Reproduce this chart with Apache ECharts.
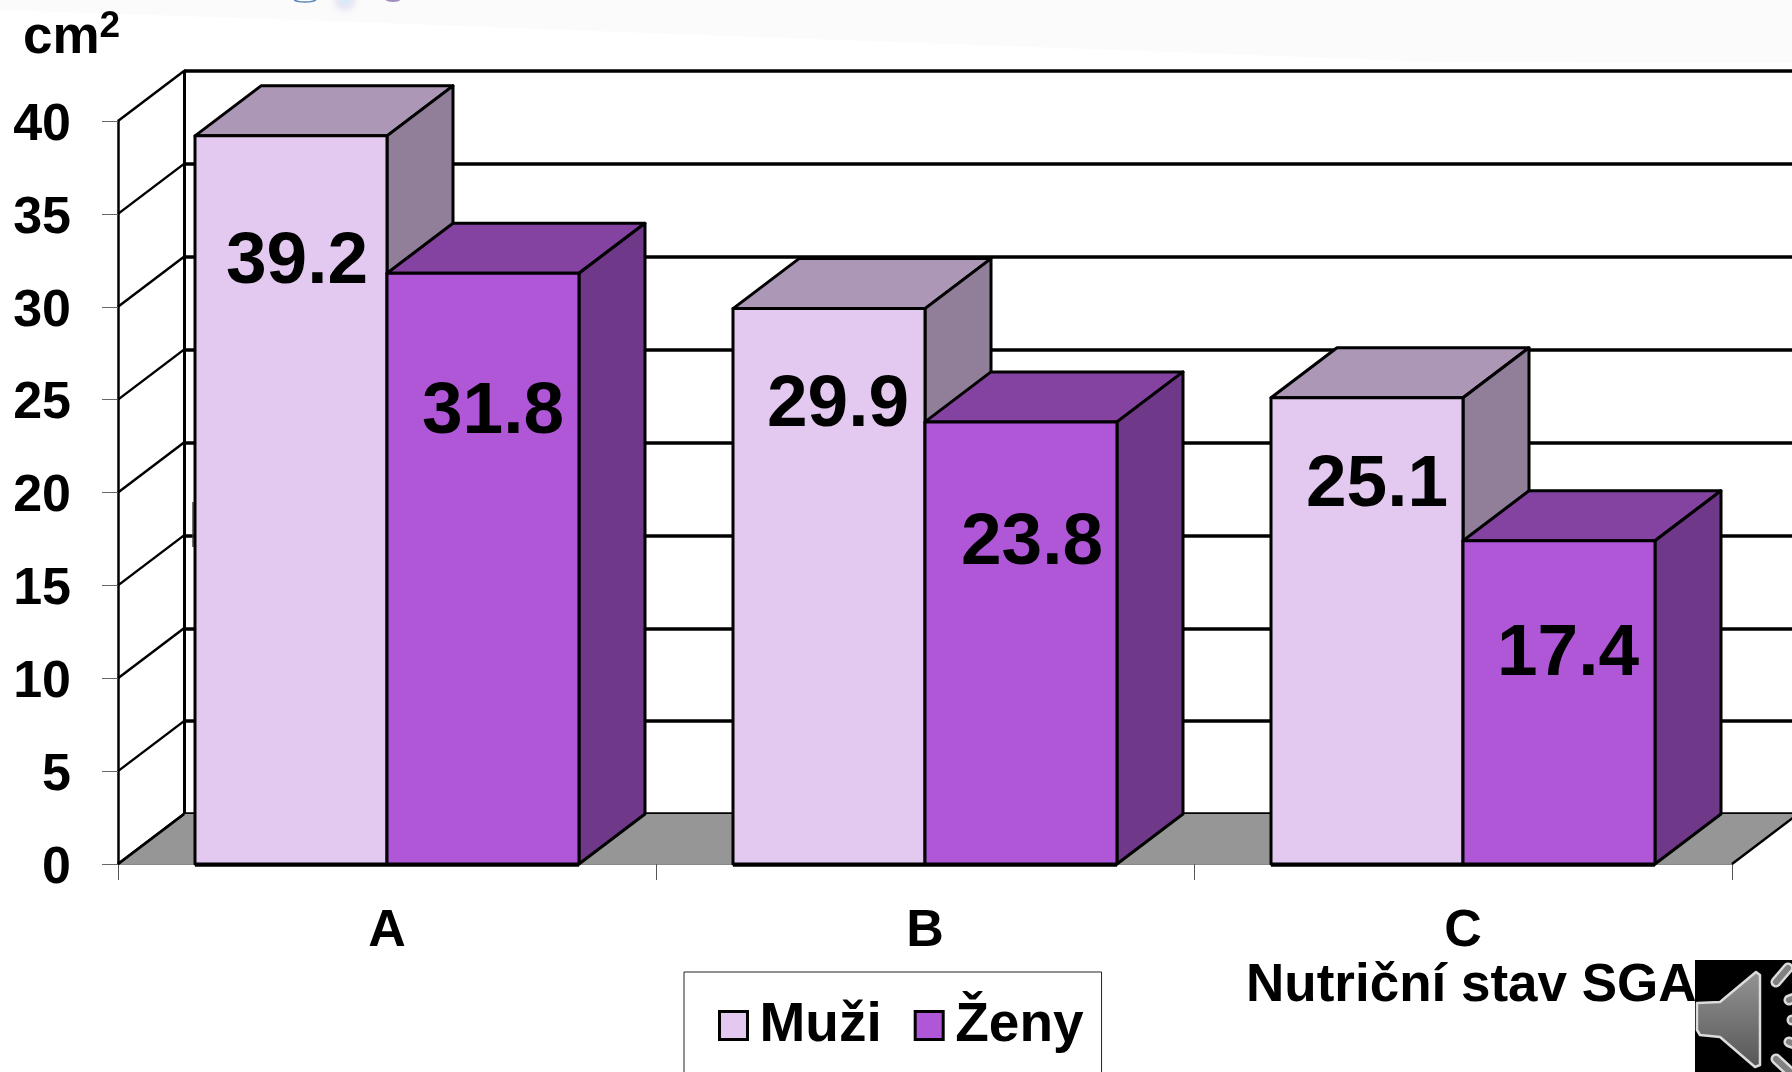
<!DOCTYPE html>
<html>
<head>
<meta charset="utf-8">
<title>Nutriční stav SGA</title>
<style>
  html, body { margin: 0; padding: 0; background: #fff; overflow: hidden; }
  #chart { width: 1792px; height: 1072px; }
</style>
<script src="https://cdn.jsdelivr.net/npm/echarts@6/dist/echarts.min.js"></script>
</head>
<body>
<div id="chart"></div>
<script>
// data
const categories = ['A', 'B', 'C'];
const muzi = [39.2, 29.9, 25.1];
const zeny = [31.8, 23.8, 17.4];
const wallTicks = [0, 5, 10, 15, 20, 25, 30, 35, 40];

// look of the 3D boxes
const DEPTH_X = 66;
const DEPTH_Y = -50;
const BAR_SHARE = 192 / 538;
const FONT = '"Liberation Sans", Arial, sans-serif';
const LINE = '#000';

const muziColors = { front: '#e3c8f0', top: '#ac98b6', side: '#917e99' };
const zenyColors = { front: '#af57d6', top: '#8543a1', side: '#6f3889' };

// labels are not centred in the bars in the original, pixel nudge from the bar centre / top
const muziNudge = [[6, 127], [9, 97], [10, 88]];
const zenyNudge = [[10, 140], [11, 122], [9, 114]];

function poly(points, fill, lineWidth) {
    return {
        type: 'polygon',
        shape: { points: points },
        style: { fill: fill, stroke: LINE, lineWidth: lineWidth || 3, lineJoin: 'round' }
    };
}

// one box per datum, side = -1 left of the category centre, side = 0 right of it
function boxRenderer(side, colors, nudge) {
    return function (params, api) {
        const idx = api.value(0);
        const val = api.value(1);
        const top = api.coord([idx, val]);
        const base = api.coord([idx, 0]);
        const w = api.size([1, 0])[0] * BAR_SHARE;
        const x0 = top[0] + side * w;
        const x1 = x0 + w;
        return {
            type: 'group',
            children: [
                poly([[x0, top[1]], [x0 + DEPTH_X, top[1] + DEPTH_Y], [x1 + DEPTH_X, top[1] + DEPTH_Y], [x1, top[1]]], colors.top),
                poly([[x1, top[1]], [x1 + DEPTH_X, top[1] + DEPTH_Y], [x1 + DEPTH_X, base[1] + DEPTH_Y], [x1, base[1]]], colors.side),
                poly([[x0, top[1]], [x1, top[1]], [x1, base[1]], [x0, base[1]]], colors.front),
                {
                    type: 'line',
                    shape: { x1: x0, y1: base[1] + 1, x2: x1, y2: base[1] + 1 },
                    style: { stroke: LINE, lineWidth: 3.5 }
                },
                {
                    type: 'text',
                    style: {
                        x: x0 + w / 2 + nudge[params.dataIndex][0],
                        y: top[1] + nudge[params.dataIndex][1],
                        text: val.toFixed(1),
                        fill: '#000',
                        font: 'bold 73px ' + FONT,
                        align: 'center',
                        verticalAlign: 'middle'
                    }
                }
            ]
        };
    };
}

function renderWall(params, api) {
    const p = api.coord([0, api.value(0)]);
    const x = params.coordSys.x;
    return {
        type: 'line',
        shape: { x1: x, y1: p[1], x2: x + DEPTH_X, y2: p[1] + DEPTH_Y },
        style: { stroke: LINE, lineWidth: 2.5 }
    };
}

function renderFloor(params, api) {
    const y = api.coord([0, 0])[1];
    const x0 = params.coordSys.x;
    const x1 = x0 + params.coordSys.width;
    return {
        type: 'group',
        children: [
            {
                type: 'polygon',
                shape: { points: [[x0, y], [x0 + DEPTH_X, y + DEPTH_Y], [x1 + DEPTH_X, y + DEPTH_Y], [x1, y]] },
                style: { fill: '#969696' }
            },
            { type: 'line', shape: { x1: x0, y1: y, x2: x0 + DEPTH_X, y2: y + DEPTH_Y }, style: { stroke: LINE, lineWidth: 2.5 } },
            { type: 'line', shape: { x1: x1, y1: y, x2: x1 + DEPTH_X, y2: y + DEPTH_Y }, style: { stroke: LINE, lineWidth: 2.5 } }
        ]
    };
}

// the slide behind the chart: pale band at the top, glow of the cut off logo, sound icon
function slideGraphics() {
    const speaker = [[1697, 1003], [1720, 1002], [1756, 972], [1760, 975], [1760, 1065], [1755, 1067], [1720, 1037], [1700, 1035], [1697, 1030]];
    const waves = [
        [[1776, 982], [1788, 968]],
        [[1789, 1000], [1800, 996]],
        [[1792, 1020], [1800, 1020]],
        [[1789, 1042], [1800, 1046]],
        [[1776, 1059], [1790, 1072]]
    ];
    const els = [
        {
            type: 'polygon', silent: true, z: -10,
            shape: { points: [[0, 0], [1792, 0], [1792, 63], [1434, 62], [1200, 53], [700, 35], [300, 20], [0, 10]] },
            style: { fill: '#fbfbfb' }
        },
        {
            type: 'ellipse', silent: true, z: -9,
            shape: { cx: 345, cy: 0, rx: 170, ry: 18 },
            style: {
                fill: {
                    type: 'radial', x: 0.5, y: 0.5, r: 0.5,
                    colorStops: [
                        { offset: 0, color: '#d4eaf8' },
                        { offset: 0.45, color: '#ebe8f5' },
                        { offset: 1, color: 'rgba(251,251,251,0)' }
                    ]
                }
            }
        },
        { type: 'ellipse', silent: true, z: -8, shape: { cx: 305, cy: -1, rx: 11, ry: 3 }, style: { fill: 'none', stroke: '#5a86bb', lineWidth: 1.5 } },
        { type: 'ellipse', silent: true, z: -8, shape: { cx: 393, cy: -1, rx: 8, ry: 3 }, style: { fill: '#a48fbc' } },
        // stray stroke left of the first bar in the original
        { type: 'line', silent: true, z: 1, shape: { x1: 193, y1: 502, x2: 193, y2: 547 }, style: { stroke: '#444', lineWidth: 1.5 } },
        { type: 'rect', silent: true, z: 20, shape: { x: 1695, y: 960, width: 97, height: 112 }, style: { fill: '#000' } },
        {
            type: 'polygon', silent: true, z: 21,
            shape: { points: speaker, smooth: 0 },
            style: {
                stroke: '#dcdcdc', lineWidth: 2.5, lineJoin: 'round',
                fill: { type: 'linear', x: 0, y: 0, x2: 0, y2: 1, colorStops: [{ offset: 0, color: '#949494' }, { offset: 1, color: '#565656' }] }
            }
        }
    ];
    waves.forEach(function (w) {
        els.push({ type: 'line', silent: true, z: 21, shape: { x1: w[0][0], y1: w[0][1], x2: w[1][0], y2: w[1][1] }, style: { stroke: '#dcdcdc', lineWidth: 11, lineCap: 'round' } });
        els.push({ type: 'line', silent: true, z: 22, shape: { x1: w[0][0], y1: w[0][1], x2: w[1][0], y2: w[1][1] }, style: { stroke: '#808080', lineWidth: 6, lineCap: 'round' } });
    });
    return els;
}

const chart = echarts.init(document.getElementById('chart'), null, { renderer: 'canvas' });

chart.setOption({
    animation: false,
    backgroundColor: '#fff',
    textStyle: { fontFamily: FONT },
    title: [
        {
            text: '{c|cm}{s|2}',
            left: 23,
            top: 8,
            padding: 0,
            textStyle: {
                rich: {
                    c: { fontFamily: FONT, fontSize: 53, fontWeight: 'bold', color: '#000', verticalAlign: 'bottom', padding: [4, 0, 0, 0] },
                    s: { fontFamily: FONT, fontSize: 37, fontWeight: 'bold', color: '#000', verticalAlign: 'top' }
                }
            }
        },
        { text: 'Nutriční stav SGA', left: 1246, top: 960, padding: 0, textStyle: { fontFamily: FONT, fontSize: 53, fontWeight: 'bold', color: '#000' } }
    ],
    legend: {
        left: 684,
        top: 972,
        orient: 'horizontal',
        data: [
            { name: 'Muži', icon: 'rect', itemStyle: { color: muziColors.front, borderColor: LINE, borderWidth: 3 } },
            { name: 'Ženy', icon: 'rect', itemStyle: { color: zenyColors.front, borderColor: LINE, borderWidth: 3 } }
        ],
        itemWidth: 28,
        itemHeight: 28,
        itemGap: 32,
        padding: [26, 18, 40, 34],
        borderColor: '#222',
        borderWidth: 1,
        textStyle: { fontFamily: FONT, fontSize: 55, fontWeight: 'bold', color: '#000', padding: [18, 0, 0, 7] }
    },
    grid: [
        { left: 118, top: 121, width: 1614, height: 743 },
        { left: 184, top: 71, width: 1614, height: 743 }
    ],
    xAxis: [
        {
            type: 'category',
            gridIndex: 0,
            data: categories,
            axisLine: { lineStyle: { color: '#8a8a8a', width: 1 } },
            axisTick: { show: true, length: 16, lineStyle: { color: '#555', width: 1 } },
            axisLabel: { margin: 42, fontFamily: FONT, fontSize: 52, fontWeight: 'bold', color: '#000' }
        },
        {
            type: 'category',
            gridIndex: 1,
            data: categories,
            axisLine: { show: false },
            axisTick: { show: false },
            axisLabel: { show: false }
        }
    ],
    yAxis: [
        {
            type: 'value',
            gridIndex: 0,
            min: 0,
            max: 40,
            interval: 5,
            splitLine: { show: false },
            axisLine: { show: true, lineStyle: { color: LINE, width: 2.5 } },
            axisTick: { show: true, length: 16, lineStyle: { color: '#666', width: 1 } },
            axisLabel: { margin: 47, verticalAlign: 'top', lineHeight: 9, fontFamily: FONT, fontSize: 52, fontWeight: 'bold', color: '#000' }
        },
        {
            type: 'value',
            gridIndex: 1,
            min: 0,
            max: 40,
            interval: 5,
            splitLine: { show: true, lineStyle: { color: LINE, width: 3.5 } },
            axisLine: { show: true, lineStyle: { color: LINE, width: 3 } },
            axisTick: { show: false },
            axisLabel: { show: false }
        }
    ],
    series: [
        {
            type: 'custom',
            name: 'floor',
            xAxisIndex: 0,
            yAxisIndex: 0,
            data: [0],
            renderItem: renderFloor,
            silent: true
        },
        {
            type: 'custom',
            name: 'walls',
            xAxisIndex: 0,
            yAxisIndex: 0,
            data: wallTicks,
            encode: { y: 0 },
            renderItem: renderWall,
            silent: true
        },
        {
            type: 'custom',
            name: 'Muži',
            xAxisIndex: 0,
            yAxisIndex: 0,
            data: muzi.map(function (v, i) { return [i, v]; }),
            encode: { x: 0, y: 1 },
            itemStyle: { color: muziColors.front },
            renderItem: boxRenderer(-1, muziColors, muziNudge)
        },
        {
            type: 'custom',
            name: 'Ženy',
            xAxisIndex: 0,
            yAxisIndex: 0,
            data: zeny.map(function (v, i) { return [i, v]; }),
            encode: { x: 0, y: 1 },
            itemStyle: { color: zenyColors.front },
            renderItem: boxRenderer(0, zenyColors, zenyNudge)
        }
    ],
    graphic: slideGraphics()
});
</script>
</body>
</html>
